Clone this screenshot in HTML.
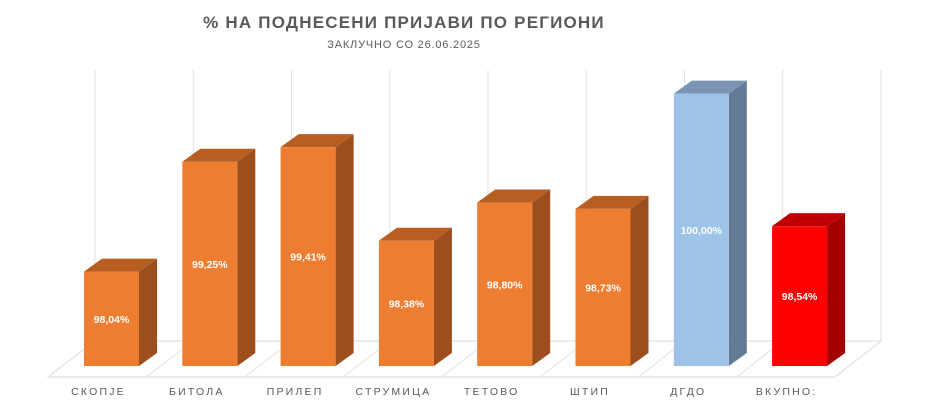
<!DOCTYPE html>
<html><head><meta charset="utf-8"><style>
body{margin:0;background:#fff;}
svg text{font-family:"Liberation Sans",sans-serif;}
</style></head><body>
<svg width="934" height="409" viewBox="0 0 934 409">
<text x="404" y="28" text-anchor="middle" font-size="17" font-weight="bold" fill="#595959" letter-spacing="1.2">% НА ПОДНЕСЕНИ ПРИЈАВИ ПО РЕГИОНИ</text>
<text x="404" y="48" text-anchor="middle" font-size="11" fill="#595959" letter-spacing="0.8">ЗАКЛУЧНО СО 26.06.2025</text>
<g id="grid"></g>
<g id="bars"></g>
<g id="labels"></g>
</svg>
<script>
const categories=["СКОПЈЕ","БИТОЛА","ПРИЛЕП","СТРУМИЦА","ТЕТОВО","ШТИП","ДГДО","ВКУПНО:"];
const values=[98.04,99.25,99.41,98.38,98.80,98.73,100.00,98.54];
const valueLabels=["98,04%","99,25%","99,41%","98,38%","98,80%","98,73%","100,00%","98,54%"];
const NS="http://www.w3.org/2000/svg";
const yMin=97, pxPerUnit=90.8, baseY=366, step=98.3, bar0=84, bw=55, dx=18, dy=-13;
function y(v){return baseY-(v-yMin)*pxPerUnit;}
function xb(i){return bar0+i*step;}
function mk(tag,attrs,parent){const e=document.createElementNS(NS,tag);for(const k in attrs)e.setAttribute(k,attrs[k]);parent.appendChild(e);return e;}
const grid=document.getElementById('grid');
// floor
mk('polygon',{points:"48,377 835,377 881,341 95,341",fill:"none",stroke:"#d9d9d9","stroke-width":1},grid);
for(let k=0;k<=8;k++){
  const bx=95+k*(881-95)/8, fx=48+k*(835-48)/8;
  mk('line',{x1:bx,y1:70,x2:bx,y2:341,stroke:"#e0e0e0","stroke-width":1},grid);
  mk('line',{x1:fx,y1:377,x2:bx,y2:341,stroke:"#e0e0e0","stroke-width":1},grid);
}
const colors=values.map((v,i)=>i===6?["#9dc3e6","#7994b2","#627b95"]:i===7?["#ff0000","#c00000","#a50000"]:["#ed7d31","#b85e22","#9c4f1d"]);
const bars=document.getElementById('bars');
const labels=document.getElementById('labels');
values.forEach((v,i)=>{
  const x=xb(i), t=y(v), c=colors[i];
  const g=mk('g',{},bars);
  
  
  mk('polygon',{points:`${x+bw},${t} ${x+bw+dx},${t+dy} ${x+bw+dx},${baseY+dy} ${x+bw},${baseY}`,fill:c[2]},g);
  mk('polygon',{points:`${x},${t} ${x+dx},${t+dy} ${x+bw+dx},${t+dy} ${x+bw},${t}`,fill:c[1]},g);
  mk('rect',{x:x,y:t,width:bw,height:baseY-t,fill:c[0]},g);
  const tx=mk('text',{x:x+bw/2,y:(t+baseY)/2+4,"text-anchor":"middle","font-size":"10.5","font-weight":"bold",fill:"#fff"},g);
  tx.textContent=valueLabels[i];
  
  
  const lb=mk('text',{x:x+bw/2-13,y:395,"text-anchor":"middle","font-size":"10.5",fill:"#595959","letter-spacing":"2.2"},labels);
  lb.textContent=categories[i];
  
  
});
</script>
</body></html>
